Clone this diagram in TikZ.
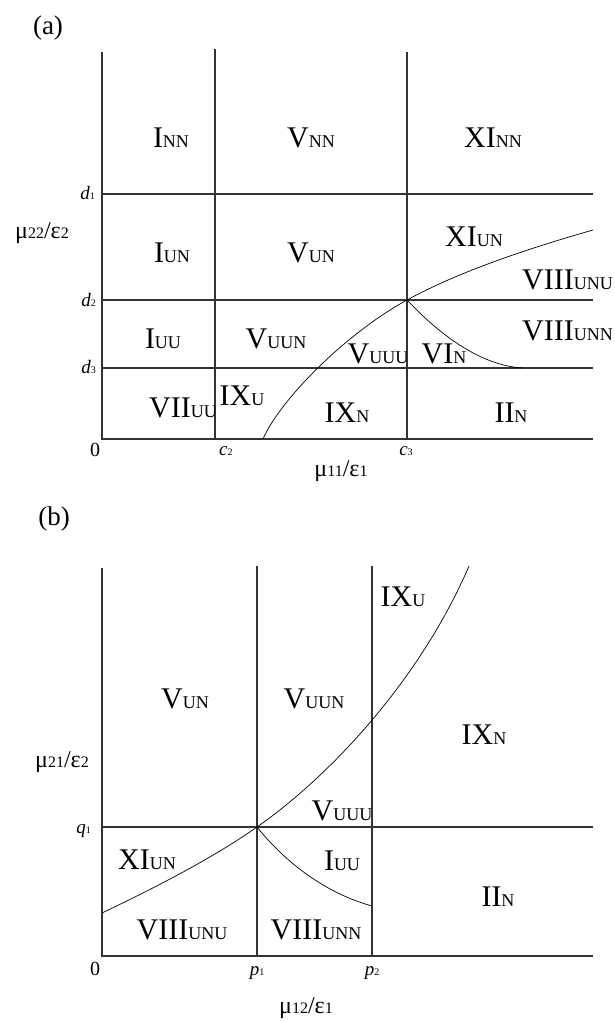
\documentclass[tikz,border=0pt]{standalone}
\usepackage{fontspec}
\setmainfont{Liberation Serif}
\newcommand\reglab[2]{{\fontsize{30}{30}\selectfont #1}{\fontsize{18}{18}\selectfont #2}}
\newcommand\ticklab[2]{{\fontsize{19}{19}\selectfont\itshape #1}{\fontsize{10}{10}\selectfont #2}}
\newcommand\axlab[2]{{\fontsize{24}{24}\selectfont μ}{\fontsize{16}{16}\selectfont #1}{\fontsize{24}{24}\selectfont /ε}{\fontsize{16}{16}\selectfont #2}}
\begin{document}
\begin{tikzpicture}[x=1pt,y=-1pt,
  gridline/.style={draw=black!80,line width=1.1pt},
  bound/.style={draw=black,line width=0.7pt},
  reg/.style={inner sep=0pt,anchor=base},
  tick/.style={inner sep=0pt,anchor=base},
  panel/.style={inner sep=0pt,font=\fontsize{27}{27}\selectfont}]
\useasboundingbox (0,0) rectangle (614,1022);

% ---------------- panel (a) ----------------
\node[panel] (pa) at (48,28) {(a)};
\coordinate (a-o) at (102,439);
\coordinate (a-top) at (102,52);
\coordinate (a-r) at (593,439);
\coordinate (c2t) at (215,49); \coordinate (c2b) at (215,439);
\coordinate (c3t) at (407,52); \coordinate (c3b) at (407,439);
\coordinate (d1l) at (102,194); \coordinate (d1r) at (593,194);
\coordinate (d2l) at (102,300); \coordinate (d2r) at (593,300);
\coordinate (d3l) at (102,368); \coordinate (d3r) at (593,368);
\coordinate (a-s) at (263,439);
\coordinate (a-x) at (407,300);
\coordinate (a-t) at (593,230);
\coordinate (a-e) at (522,368);

\draw[gridline] (a-top) -- (a-o) -- (a-r);
\draw[gridline] (c2t) -- (c2b);
\draw[gridline] (c3t) -- (c3b);
\draw[gridline] (d1l) -- (d1r);
\draw[gridline] (d2l) -- (d2r);
\draw[gridline] (d3l) -- (d3r);
\draw[bound] (a-s) .. controls (280,400) and (345,334) .. (a-x)
                   .. controls (460,271) and (530,248) .. (a-t);
\draw[bound] (a-x) .. controls (440,335) and (480,365) .. (a-e);

\node[reg] (inn) at (171,147) {\reglab{I}{NN}};
\node[reg] (vnn) at (311,147) {\reglab{V}{NN}};
\node[reg] (xinn) at (493,147) {\reglab{XI}{NN}};
\node[reg] (iun) at (172,262) {\reglab{I}{UN}};
\node[reg] (vun) at (311,262) {\reglab{V}{UN}};
\node[reg] (xiun) at (474,246) {\reglab{XI}{UN}};
\node[reg,anchor=base west] (viiiunu) at (522,289) {\reglab{VIII}{UNU}};
\node[reg] (iuu) at (163,348) {\reglab{I}{UU}};
\node[reg] (vuun) at (276,348) {\reglab{V}{UUN}};
\node[reg] (vuuu) at (378,363) {\reglab{V}{UUU}};
\node[reg] (vin) at (444,363) {\reglab{VI}{N}};
\node[reg,anchor=base west] (viiiunn) at (522,340) {\reglab{VIII}{UNN}};
\node[reg] (viiuu) at (183,417) {\reglab{VII}{UU}};
\node[reg] (ixu) at (242,405) {\reglab{IX}{U}};
\node[reg] (ixn) at (347,422) {\reglab{IX}{N}};
\node[reg] (iin) at (511,422) {\reglab{II}{N}};

\node[tick,anchor=base east] (d1) at (95,199) {\ticklab{d}{1}};
\node[tick,anchor=base east] (d2) at (96,306) {\ticklab{d}{2}};
\node[tick,anchor=base east] (d3) at (96,373) {\ticklab{d}{3}};
\node[tick] (a0) at (95,456) {\fontsize{20}{20}\selectfont 0};
\node[tick,anchor=base west] (c2) at (219,455) {\ticklab{c}{2}};
\node[tick] (c3) at (406,455) {\ticklab{c}{3}};
\node[tick] (ay) at (42,238) {\axlab{22}{2}};
\node[tick] (ax) at (341,476) {\axlab{11}{1}};

% ---------------- panel (b) ----------------
\node[panel] (pb) at (54,519) {(b)};
\coordinate (b-o) at (102,956);
\coordinate (b-top) at (102,568);
\coordinate (b-r) at (593,956);
\coordinate (p1t) at (257,566); \coordinate (p1b) at (257,956);
\coordinate (p2t) at (372,566); \coordinate (p2b) at (372,956);
\coordinate (q1l) at (102,827); \coordinate (q1r) at (593,827);
\coordinate (b-s) at (102,913);
\coordinate (b-x) at (257,827);
\coordinate (b-t) at (469,566);
\coordinate (b-e) at (372,906);

\draw[gridline] (b-top) -- (b-o) -- (b-r);
\draw[gridline] (p1t) -- (p1b);
\draw[gridline] (p2t) -- (p2b);
\draw[gridline] (q1l) -- (q1r);
\draw[bound] (b-s) .. controls (150,890) and (210,860) .. (b-x)
                   .. controls (330,776) and (420,680) .. (b-t);
\draw[bound] (b-x) .. controls (285,862) and (325,893) .. (b-e);

\node[reg] (bvun) at (185,708) {\reglab{V}{UN}};
\node[reg] (bvuun) at (314,708) {\reglab{V}{UUN}};
\node[reg] (bixu) at (403,606) {\reglab{IX}{U}};
\node[reg] (bixn) at (484,744) {\reglab{IX}{N}};
\node[reg] (bvuuu) at (342,820) {\reglab{V}{UUU}};
\node[reg] (bxiun) at (147,869) {\reglab{XI}{UN}};
\node[reg] (biuu) at (342,870) {\reglab{I}{UU}};
\node[reg] (biin) at (498,906) {\reglab{II}{N}};
\node[reg] (bviiiunu) at (182,939) {\reglab{VIII}{UNU}};
\node[reg] (bviiiunn) at (316,939) {\reglab{VIII}{UNN}};

\node[tick,anchor=base east] (q1) at (91,833) {\ticklab{q}{1}};
\node[tick] (b0) at (95,975) {\fontsize{20}{20}\selectfont 0};
\node[tick] (p1) at (257,975) {\ticklab{p}{1}};
\node[tick] (p2) at (372,975) {\ticklab{p}{2}};
\node[tick] (by) at (62,767) {\axlab{21}{2}};
\node[tick] (bx) at (306,1013) {\axlab{12}{1}};
\end{tikzpicture}
\end{document}
